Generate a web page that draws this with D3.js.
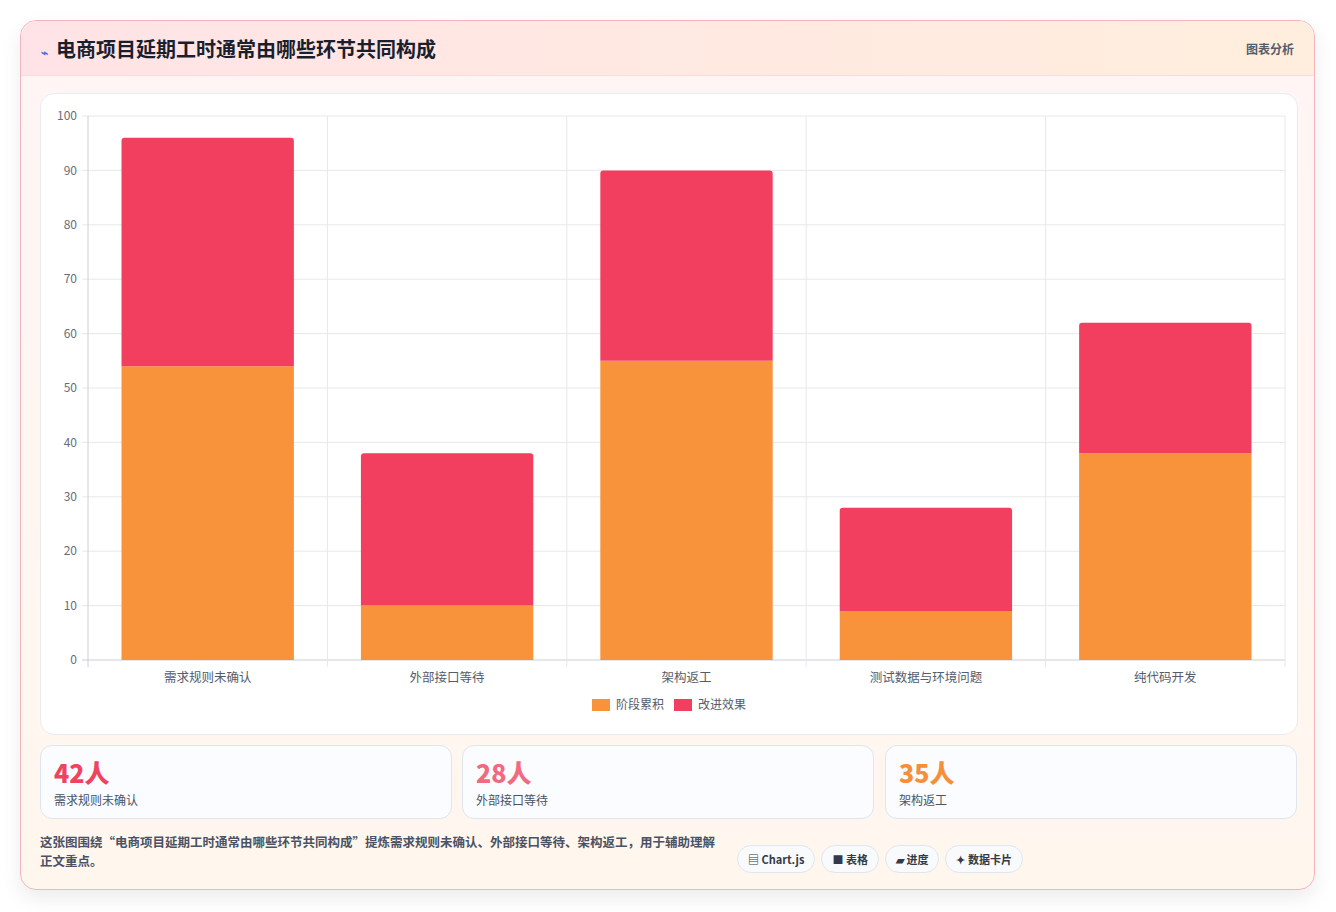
<!DOCTYPE html>
<html>
<head>
<meta charset="utf-8">
<title>电商项目延期工时</title>
<style>
  body { margin: 0; background: #fff; font-family: "Noto Sans CJK SC", "Noto Sans", sans-serif; }
  .card { position: absolute; left: 20px; top: 20px; width: 1293px; height: 868px; border: 1px solid #f2b5bd; border-radius: 16px;
          background: linear-gradient(180deg, #fff5f5 0%, #fff7ee 100%); box-shadow: 0 8px 20px rgba(0,0,0,0.08); overflow: hidden; }
  .head { height: 54px; background: linear-gradient(90deg, #ffe3e6, #ffeedd); border-bottom: 1px solid #f6dcdc; position: relative; }
  .head h1 { margin: 0; position: absolute; left: 20px; top: 13px; font-size: 20px; color: #1a1f2e; font-weight: 700; }
  .head h1 span { color: #4f6de0; font-size: 12px; margin-right: 8px; }
  .head .tag { position: absolute; right: 20px; top: 19px; font-size: 12px; color: #555c6b; font-weight: 600; }
  .panel { position: absolute; left: 19px; top: 72px; width: 1256px; height: 640px; background: #fff; border: 1px solid #e8ebf0; border-radius: 14px; }
  .stat { position: absolute; top: 724px; width: 410px; height: 72px; background: #fafcff; border: 1px solid #dde5ef; border-radius: 12px; }
  .stat b { position: absolute; left: 13px; top: 8px; font-size: 25px; font-weight: 800; }
  .stat i { position: absolute; left: 13px; top: 45px; font-size: 12px; font-style: normal; color: #4a5263; }
  .note { position: absolute; left: 19px; top: 811px; width: 680px; font-size: 12.5px; line-height: 19px; color: #4a5263; font-weight: 600; }
  .chips { position: absolute; left: 716px; top: 824px; }
  .chips span { display: inline-block; margin-right: 6px; padding: 5px 10px; border: 1px solid #e1e6ee; border-radius: 14px; background: #f8fafc; font-size: 11px; color: #333a48; font-weight: 700; }
</style>
</head>
<body>
<div class="card">
  <div class="head"><h1><span>⌁</span>电商项目延期工时通常由哪些环节共同构成</h1><div class="tag">图表分析</div></div>
  <div class="panel"><svg id="chart" width="1256" height="640"></svg></div>
  <div class="stat" style="left:19px"><b style="color:#f0435f">42人</b><i>需求规则未确认</i></div>
  <div class="stat" style="left:441px"><b style="color:#f06a80">28人</b><i>外部接口等待</i></div>
  <div class="stat" style="left:864px"><b style="color:#f78f3a">35人</b><i>架构返工</i></div>
  <div class="note">这张图围绕“电商项目延期工时通常由哪些环节共同构成”提炼需求规则未确认、外部接口等待、架构返工，用于辅助理解正文重点。</div>
  <div class="chips"><span>▤ Chart.js</span><span>■ 表格</span><span>▰ 进度</span><span>✦ 数据卡片</span></div>
</div>
<script src="https://d3js.org/d3.v7.min.js"></script>
<script>
const categories = ["需求规则未确认", "外部接口等待", "架构返工", "测试数据与环境问题", "纯代码开发"];
const stageValues = [54, 10, 55, 9, 38];
const improveValues = [42, 28, 35, 19, 24];
const seriesNames = ["阶段累积", "改进效果"];
const colors = ["#f8933c", "#f33f5f"];
const yTicks = [0, 10, 20, 30, 40, 50, 60, 70, 80, 90, 100];

const svg = d3.select("#chart");
const plotLeft = 47, plotRight = 1244, plotTop = 22, plotBottom = 566;

const x = d3.scaleBand().domain(categories).range([plotLeft, plotRight]).paddingInner(0.28).paddingOuter(0.14);
const band = d3.scaleBand().domain(categories).range([plotLeft, plotRight]);
const y = d3.scaleLinear().domain([0, 100]).range([plotBottom, plotTop]);

// grid
svg.selectAll(".hg").data(yTicks).enter().append("line")
  .attr("x1", plotLeft - 6).attr("x2", plotRight).attr("y1", d => y(d)).attr("y2", d => y(d))
  .attr("stroke", d => d === 0 ? "#c9ced6" : "#e5e8ec");
svg.selectAll(".vg").data(categories.concat(["end"])).enter().append("line")
  .attr("x1", (d, i) => plotLeft + i * band.bandwidth()).attr("x2", (d, i) => plotLeft + i * band.bandwidth())
  .attr("y1", plotTop).attr("y2", plotBottom + 7)
  .attr("stroke", (d, i) => i === 0 ? "#c9ced6" : "#e5e8ec");

svg.selectAll(".yl").data(yTicks).enter().append("text")
  .attr("x", plotLeft - 11).attr("y", d => y(d)).attr("dy", "0.35em").attr("text-anchor", "end")
  .attr("font-size", 12).attr("fill", "#666d7a").text(d => d);

svg.selectAll(".xl").data(categories).enter().append("text")
  .attr("x", d => band(d) + band.bandwidth() / 2).attr("y", plotBottom + 22).attr("text-anchor", "middle")
  .attr("font-size", 12.5).attr("fill", "#555c6b").text(d => d);

const rows = categories.map((c, i) => ({ cat: c, s0: stageValues[i], s1: improveValues[i] }));
const stack = d3.stack().keys(["s0", "s1"])(rows);

stack.forEach((layer, li) => {
  svg.selectAll(".b" + li).data(layer).enter().append("path")
    .attr("fill", colors[li])
    .attr("d", d => {
      const x0 = x(d.data.cat), w = x.bandwidth(), y0 = y(d[0]), y1 = y(d[1]);
      if (li === 1) {
        const r = 3;
        return `M${x0},${y0}V${y1 + r}Q${x0},${y1} ${x0 + r},${y1}H${x0 + w - r}Q${x0 + w},${y1} ${x0 + w},${y1 + r}V${y0}Z`;
      }
      return `M${x0},${y0}V${y1}H${x0 + w}V${y0}Z`;
    });
});

// legend
const lg = svg.append("g").attr("transform", "translate(551,605)");
seriesNames.forEach((n, i) => {
  const g = lg.append("g").attr("transform", `translate(${i * 82},0)`);
  g.append("rect").attr("width", 18).attr("height", 12).attr("fill", colors[i]);
  g.append("text").attr("x", 24).attr("y", 10).attr("font-size", 12).attr("fill", "#555c6b").text(n);
});
</script>
</body>
</html>
